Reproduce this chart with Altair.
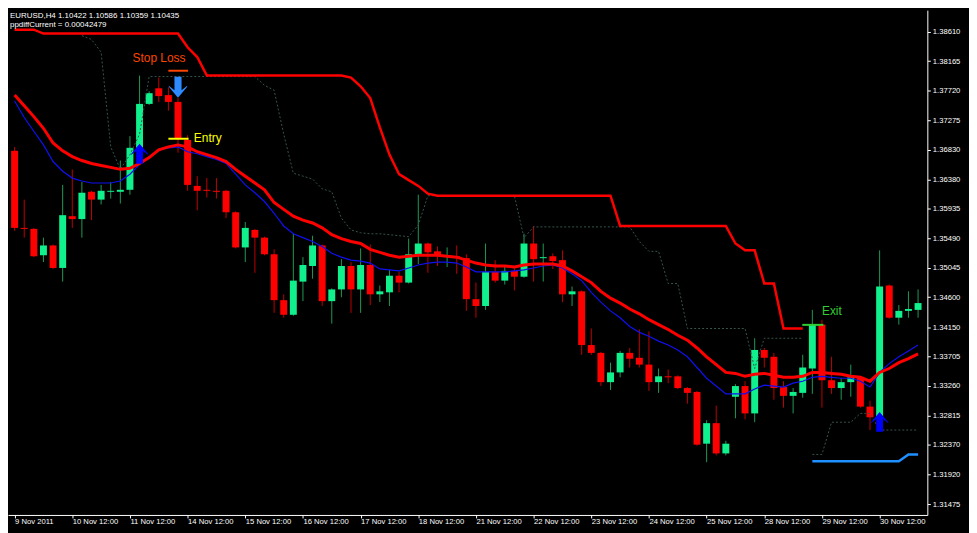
import altair as alt
import pandas as pd

# ---------------- data ----------------
bar_open = [1.36811, 1.35647, 1.35632, 1.35234, 1.35382, 1.35042, 1.35824, 1.35780, 1.36192, 1.36074,
            1.36192, 1.36192, 1.36222, 1.36856, 1.37519, 1.37755, 1.37652, 1.37549, 1.36974, 1.36281,
            1.36222, 1.36207, 1.36207, 1.35883, 1.35352, 1.35617, 1.35500, 1.35249, 1.34556, 1.34335,
            1.34836, 1.35072, 1.35382, 1.34541, 1.34718, 1.35072, 1.34718, 1.35087, 1.34644, 1.34674,
            1.34925, 1.34821, 1.35249, 1.35411, 1.35293, 1.35219, 1.35219, 1.35190, 1.34571, 1.34468,
            1.34984, 1.34851, 1.34998, 1.34910, 1.35411, 1.35190, 1.35219, 1.35160, 1.34644, 1.34689,
            1.33878, 1.33760, 1.33318, 1.33465, 1.33760, 1.33686, 1.33583, 1.33318, 1.33406, 1.33406,
            1.33229, 1.33170, 1.32389, 1.32699, 1.32242, 1.33097, 1.33259, 1.32846, 1.33804, 1.33701,
            1.33244, 1.33111, 1.33156, 1.33524, 1.34187, 1.33347, 1.33229, 1.33318, 1.33391, 1.32949,
            1.32787, 1.34777, 1.34291, 1.34394, 1.34409]
bar_high = [1.36870, 1.36074, 1.35647, 1.35500, 1.35396, 1.36296, 1.36531, 1.36340, 1.36207, 1.36296,
            1.36340, 1.36664, 1.37033, 1.37947, 1.37711, 1.37917, 1.37770, 1.37608, 1.37047, 1.36428,
            1.36399, 1.36399, 1.36222, 1.35897, 1.35735, 1.35632, 1.35514, 1.35323, 1.34644, 1.35558,
            1.35205, 1.35529, 1.35396, 1.34733, 1.35175, 1.35131, 1.35337, 1.35396, 1.34777, 1.35013,
            1.34984, 1.35485, 1.36148, 1.35426, 1.35367, 1.35352, 1.35382, 1.35249, 1.34821, 1.35411,
            1.35160, 1.35057, 1.35057, 1.35558, 1.35676, 1.35411, 1.35264, 1.35308, 1.34762, 1.34703,
            1.34128, 1.33775, 1.33613, 1.33789, 1.33834, 1.34114, 1.34084, 1.33524, 1.33509, 1.33421,
            1.33244, 1.33185, 1.32743, 1.32964, 1.32433, 1.33288, 1.33332, 1.33981, 1.33834, 1.33760,
            1.33332, 1.33229, 1.33731, 1.34409, 1.34261, 1.33701, 1.33377, 1.33583, 1.33406, 1.33038,
            1.35308, 1.34792, 1.34482, 1.34689, 1.34718]
bar_low = [1.35603, 1.35500, 1.35205, 1.35131, 1.35028, 1.34836, 1.35647, 1.35500, 1.35765, 1.36001,
           1.36089, 1.36015, 1.36148, 1.36826, 1.37504, 1.37549, 1.37416, 1.36782, 1.36207, 1.35912,
           1.36104, 1.36089, 1.35794, 1.35337, 1.35131, 1.34969, 1.35234, 1.34364, 1.34291, 1.34320,
           1.34541, 1.34880, 1.34468, 1.34202, 1.34600, 1.34364, 1.34364, 1.34482, 1.34527, 1.34468,
           1.34674, 1.34807, 1.35101, 1.34969, 1.35072, 1.35057, 1.34954, 1.34394, 1.34291, 1.34409,
           1.34821, 1.34792, 1.34703, 1.34895, 1.34836, 1.34836, 1.35028, 1.34527, 1.34468, 1.33731,
           1.33731, 1.33259, 1.33200, 1.33391, 1.33539, 1.33539, 1.33185, 1.33156, 1.33303, 1.33215,
           1.32993, 1.32359, 1.32109, 1.32212, 1.32212, 1.32772, 1.32757, 1.32713, 1.33539, 1.33052,
           1.32934, 1.32846, 1.33082, 1.33141, 1.32934, 1.33141, 1.33052, 1.33097, 1.32934, 1.32595,
           1.32595, 1.34276, 1.34187, 1.34291, 1.34291]
bar_close = [1.35647, 1.35632, 1.35219, 1.35382, 1.35042, 1.35839, 1.35780, 1.36178, 1.36074, 1.36207,
             1.36207, 1.36222, 1.36856, 1.37519, 1.37681, 1.37637, 1.37549, 1.36988, 1.36296, 1.36207,
             1.36207, 1.36192, 1.35883, 1.35352, 1.35647, 1.35500, 1.35249, 1.34556, 1.34335, 1.34851,
             1.35087, 1.35382, 1.34541, 1.34718, 1.35072, 1.34718, 1.35087, 1.34644, 1.34689, 1.34925,
             1.34821, 1.35249, 1.35411, 1.35278, 1.35234, 1.35234, 1.35205, 1.34571, 1.34468, 1.34984,
             1.34851, 1.34998, 1.34910, 1.35411, 1.35175, 1.35205, 1.35146, 1.34644, 1.34689, 1.33878,
             1.33760, 1.33318, 1.33465, 1.33760, 1.33672, 1.33583, 1.33318, 1.33406, 1.33391, 1.33229,
             1.33156, 1.32374, 1.32699, 1.32242, 1.32389, 1.33259, 1.32846, 1.33804, 1.33686, 1.33229,
             1.33111, 1.33170, 1.33539, 1.34187, 1.33347, 1.33229, 1.33318, 1.33391, 1.32949, 1.32787,
             1.34762, 1.34291, 1.34394, 1.34423, 1.34512]

red_ma = [1.37652, 1.37490, 1.37327, 1.37151, 1.36929, 1.36811, 1.36723, 1.36664, 1.36620, 1.36590,
          1.36561, 1.36531, 1.36546, 1.36620, 1.36708, 1.36826, 1.36870, 1.36900, 1.36870, 1.36797,
          1.36753, 1.36708, 1.36649, 1.36531, 1.36428, 1.36325, 1.36222, 1.36030, 1.35927, 1.35824,
          1.35765, 1.35721, 1.35647, 1.35544, 1.35485, 1.35441, 1.35411, 1.35323, 1.35278, 1.35234,
          1.35205, 1.35219, 1.35234, 1.35234, 1.35234, 1.35219, 1.35205, 1.35160, 1.35116, 1.35087,
          1.35072, 1.35072, 1.35057, 1.35087, 1.35101, 1.35101, 1.35101, 1.35072, 1.34998, 1.34910,
          1.34821, 1.34689, 1.34586, 1.34512, 1.34423, 1.34350, 1.34261, 1.34187, 1.34114, 1.34025,
          1.33952, 1.33834, 1.33701, 1.33583, 1.33465, 1.33450, 1.33406, 1.33436, 1.33450, 1.33421,
          1.33391, 1.33391, 1.33406, 1.33465, 1.33465, 1.33450, 1.33436, 1.33406, 1.33391, 1.33332,
          1.33465, 1.33524, 1.33613, 1.33672, 1.33745]
blue_ma = [1.37563, 1.37313, 1.37106, 1.36900, 1.36649, 1.36502, 1.36399, 1.36355, 1.36325, 1.36325,
           1.36325, 1.36355, 1.36458, 1.36605, 1.36723, 1.36826, 1.36856, 1.36870, 1.36797, 1.36767,
           1.36723, 1.36679, 1.36620, 1.36458, 1.36296, 1.36178, 1.36045, 1.35868, 1.35676, 1.35558,
           1.35500, 1.35441, 1.35367, 1.35264, 1.35205, 1.35160, 1.35146, 1.35116, 1.35028, 1.35013,
           1.34998, 1.35042, 1.35087, 1.35116, 1.35131, 1.35131, 1.35116, 1.35057, 1.34984, 1.34984,
           1.34984, 1.34984, 1.34998, 1.35013, 1.35042, 1.35072, 1.35087, 1.35042, 1.34954, 1.34851,
           1.34674, 1.34527, 1.34394, 1.34291, 1.34158, 1.34070, 1.34011, 1.33937, 1.33878, 1.33804,
           1.33701, 1.33539, 1.33377, 1.33259, 1.33141, 1.33141, 1.33141, 1.33215, 1.33273, 1.33259,
           1.33244, 1.33303, 1.33332, 1.33391, 1.33406, 1.33391, 1.33377, 1.33377, 1.33332, 1.33244,
           1.33465, 1.33598, 1.33701, 1.33789, 1.33878]

# upper trailing stop (bars 0..82)
stop_upper = [1.38640, 1.38640, 1.38640, 1.38581, 1.38581, 1.38581, 1.38581, 1.38581, 1.38581, 1.38581,
              1.38581, 1.38581, 1.38581, 1.38581, 1.38581, 1.38581, 1.38581, 1.38581, 1.38374, 1.38227,
              1.37947, 1.37947, 1.37947, 1.37947, 1.37947, 1.37947, 1.37947, 1.37947, 1.37947, 1.37947,
              1.37947, 1.37947, 1.37947, 1.37947, 1.37947, 1.37917, 1.37785, 1.37608, 1.37165, 1.36753,
              1.36458, 1.36369, 1.36281, 1.36163, 1.36133, 1.36133, 1.36133, 1.36133, 1.36133, 1.36133,
              1.36133, 1.36133, 1.36133, 1.36133, 1.36133, 1.36133, 1.36133, 1.36133, 1.36133, 1.36133,
              1.36133, 1.36133, 1.36133, 1.35676, 1.35676, 1.35676, 1.35676, 1.35676, 1.35676, 1.35676,
              1.35676, 1.35676, 1.35676, 1.35676, 1.35676, 1.35411, 1.35308, 1.35308, 1.34807, 1.34807,
              1.34128, 1.34128, 1.34128]

# dotted trailing line, first part (bars 7..82)
dotted_a = [1.38551, 1.38492, 1.38300, 1.36870, 1.36531, 1.36753, 1.37062,
            1.37932, 1.37932, 1.37932, 1.37932, 1.37932, 1.37932, 1.37932, 1.37932, 1.37932, 1.37932,
            1.37932, 1.37932, 1.37799, 1.37725, 1.37062, 1.36472, 1.36428, 1.36384, 1.36237, 1.36192,
            1.35794, 1.35617, 1.35573, 1.35558, 1.35558, 1.35544, 1.35529, 1.35514, 1.35691, 1.36133,
            1.36133, 1.36133, 1.36133, 1.36133, 1.36133, 1.36133, 1.36133, 1.36133, 1.36133, 1.35500,
            1.35662, 1.35662, 1.35662, 1.35662, 1.35662, 1.35662, 1.35662, 1.35662, 1.35662, 1.35662,
            1.35662, 1.35441, 1.35293, 1.35293, 1.34807, 1.34807, 1.34128, 1.34128, 1.34128, 1.34128,
            1.34128, 1.34128, 1.34128, 1.33524, 1.33981, 1.33981, 1.33981, 1.33981, 1.33981]
# dotted trailing line, second part (bars 83..94)
dotted_b = [1.32227, 1.32227, 1.32713, 1.32713, 1.32713, 1.32846, 1.32846, 1.32595, 1.32595, 1.32595,
            1.32595, 1.32595]
# lower blue stop (bars 83..94)
stop_lower = [1.32124, 1.32124, 1.32124, 1.32124, 1.32124, 1.32124, 1.32124, 1.32124, 1.32124, 1.32124,
              1.32227, 1.32227]

arrow_up_bars = [13, 90]
arrow_up_prices = [1.36767, 1.32718]
arrow_down_bars = [17]
arrow_down_prices = [1.37770]

ann_labels = ["Stop Loss", "Entry", "Exit"]
ann_label_bars = [12.27, 18.65, 84.0]
ann_label_prices = [1.38212, 1.37003, 1.34394]
ann_colors = ["#FF4500", "#FFFF00", "#32CD32"]
ann_line_from = [16.0, 16.0, 81.95]
ann_line_to = [18.05, 18.1, 84.15]
ann_line_prices = [1.38020, 1.36993, 1.34183]

x_tick_bars = [0, 6, 12, 18, 24, 30, 36, 42, 48, 54, 60, 66, 72, 78, 84, 90]
x_labels = ["9 Nov 2011", "10 Nov 12:00", "11 Nov 12:00", "14 Nov 12:00", "15 Nov 12:00",
            "16 Nov 12:00", "17 Nov 12:00", "18 Nov 12:00", "21 Nov 12:00", "22 Nov 12:00",
            "23 Nov 12:00", "24 Nov 12:00", "25 Nov 12:00", "28 Nov 12:00", "29 Nov 12:00",
            "30 Nov 12:00"]
y_ticks = [1.38610, 1.38165, 1.37720, 1.37275, 1.36830, 1.36380, 1.35935, 1.35490, 1.35045,
           1.34600, 1.34150, 1.33705, 1.33260, 1.32815, 1.32370, 1.31920, 1.31475]

header_1 = "EURUSD,H4  1.10422 1.10586 1.10359 1.10435"
header_2 = "ppdiffCurrent = 0.00042479"

BULL_BODY, BEAR_BODY = "#10F08C", "#FF0000"
BULL_WICK, BEAR_WICK = "#1E9A55", "#C00000"

# ---------------- tables ----------------
n = len(bar_open)
candles = pd.DataFrame({"idx": list(range(n)), "open": bar_open, "high": bar_high,
                        "low": bar_low, "close": bar_close})
is_up = [c >= o for o, c in zip(bar_open, bar_close)]
candles["body_col"] = [BULL_BODY if u else BEAR_BODY for u in is_up]
candles["wick_col"] = [BULL_WICK if u else BEAR_WICK for u in is_up]

ma_red_df = pd.DataFrame({"idx": list(range(n)), "value": red_ma})
ma_blue_df = pd.DataFrame({"idx": list(range(n)), "value": blue_ma})
stop_up_df = pd.DataFrame({"idx": list(range(len(stop_upper))), "value": stop_upper})
dot_df = pd.concat([
    pd.DataFrame({"idx": list(range(7, 7 + len(dotted_a))), "value": dotted_a, "seg": "a"}),
    pd.DataFrame({"idx": list(range(83, 83 + len(dotted_b))), "value": dotted_b, "seg": "b"}),
])
stop_low_df = pd.DataFrame({"idx": list(range(83, 83 + len(stop_lower))), "value": stop_lower})
up_df = pd.DataFrame({"idx": arrow_up_bars, "price": arrow_up_prices})
down_df = pd.DataFrame({"idx": arrow_down_bars, "price": arrow_down_prices})
ann_df = pd.DataFrame({"label": ann_labels, "idx": ann_label_bars, "price": ann_label_prices,
                       "col": ann_colors, "x1": ann_line_from, "x2": ann_line_to,
                       "lp": ann_line_prices})

# ---------------- scales & axes ----------------
FONT = "Liberation Sans"
xs = alt.Scale(domain=[-0.172, 94.45], nice=False, zero=False)
ys = alt.Scale(domain=[1.313127, 1.389343], nice=False, zero=False)
label_expr = "[" + ",".join("'%s'" % s for s in x_labels) + "][round(datum.value / 6)]"
xaxis = alt.Axis(values=x_tick_bars, labelExpr=label_expr, labelAlign="left", labelColor="white",
                 labelFont=FONT, labelFontSize=7.7, tickColor="white", tickSize=3,
                 domainColor="white", grid=False, title=None, labelPadding=0,
                 labelOverlap=False, labelFlush=False, labelBound=False)
yaxis = alt.Axis(orient="right", values=y_ticks, format=".5f", labelColor="white", labelFont=FONT,
                 labelFontSize=7.7, tickColor="white", tickSize=3, domainColor="white",
                 grid=False, title=None, labelPadding=2, labelOverlap=False, labelFlush=False)


def X(field):
    return alt.X(field, type="quantitative", scale=xs, axis=xaxis)


def Y(field):
    return alt.Y(field, type="quantitative", scale=ys, axis=yaxis)


wicks = alt.Chart(candles).mark_rule(strokeWidth=1).encode(
    x=X("idx"), y=Y("low"), y2="high:Q", color=alt.Color("wick_col:N", scale=None))
bodies = alt.Chart(candles).mark_bar(size=7).encode(
    x=X("idx"), y=Y("open"), y2="close:Q", color=alt.Color("body_col:N", scale=None))

dotted = alt.Chart(dot_df).mark_line(color="#35554D", strokeWidth=1, strokeDash=[2, 2], clip=True).encode(
    x=X("idx"), y=Y("value"), detail="seg:N")
stop_up = alt.Chart(stop_up_df).mark_line(color="#FF0000", strokeWidth=2.5, clip=True).encode(
    x=X("idx"), y=Y("value"))
stop_low = alt.Chart(stop_low_df).mark_line(color="#1E90FF", strokeWidth=2.5, clip=True).encode(
    x=X("idx"), y=Y("value"))
blue_line = alt.Chart(ma_blue_df).mark_line(color="#1010F0", strokeWidth=1.2, clip=True).encode(
    x=X("idx"), y=Y("value"))
red_line = alt.Chart(ma_red_df).mark_line(color="#FF0000", strokeWidth=3, clip=True).encode(
    x=X("idx"), y=Y("value"))

ann_rules = alt.Chart(ann_df).mark_rule(strokeWidth=2).encode(
    x=X("x1"), x2="x2:Q", y=Y("lp"), color=alt.Color("col:N", scale=None))
ann_texts = alt.Chart(ann_df).mark_text(align="left", baseline="middle", font=FONT, fontSize=12).encode(
    x=X("idx"), y=Y("price"), text="label:N", color=alt.Color("col:N", scale=None))

UP_PATH = "M0,-1 L0.88,0.06 L0.88,0.14 L0.34,-0.28 L0.34,1 L-0.34,1 L-0.34,-0.28 L-0.88,0.14 L-0.88,0.06 Z"
DOWN_PATH = "M0,1 L0.88,-0.06 L0.88,-0.14 L0.34,0.28 L0.34,-1 L-0.34,-1 L-0.34,0.28 L-0.88,-0.14 L-0.88,-0.06 Z"
up_arrows = alt.Chart(up_df).mark_point(shape=UP_PATH, filled=True, size=400, color="#0000FF",
                                        opacity=1, strokeWidth=0).encode(x=X("idx"), y=Y("price"))
down_arrows = alt.Chart(down_df).mark_point(shape=DOWN_PATH, filled=True, size=441, color="#2E8BFF",
                                            opacity=1, strokeWidth=0).encode(x=X("idx"), y=Y("price"))

head1 = alt.Chart(pd.DataFrame({"t": [header_1]})).mark_text(
    align="left", baseline="top", font=FONT, fontSize=8, color="white").encode(
    x=alt.value(2), y=alt.value(2), text="t:N")
head2 = alt.Chart(pd.DataFrame({"t": [header_2]})).mark_text(
    align="left", baseline="top", font=FONT, fontSize=8, color="white").encode(
    x=alt.value(2), y=alt.value(11), text="t:N")

chart = alt.layer(
    wicks, bodies, dotted, stop_up, stop_low, blue_line, red_line,
    ann_rules, ann_texts, up_arrows, down_arrows, head1, head2
).properties(
    width=927, height=509,
    autosize=alt.AutoSizeParams(type="none"),
    padding={"left": 0, "top": 0, "right": 42, "bottom": 16},
    background="black",
).configure_view(strokeWidth=0)

chart.save("out.html", embed_options={"renderer": "svg", "actions": False})
